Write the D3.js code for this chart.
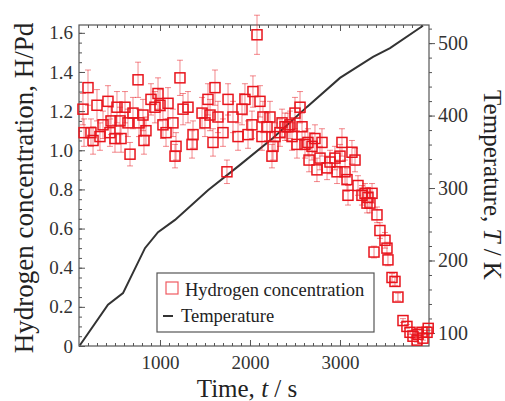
<!DOCTYPE html>
<html>
<head>
<meta charset="utf-8">
<script src="https://cdn.jsdelivr.net/npm/d3@7"></script>
<style>
  body { margin: 0; background: #fff; }
  svg { font-family: "Liberation Serif", "DejaVu Serif", serif; }
  svg text { font-family: "Liberation Serif", "DejaVu Serif", serif; }
</style>
</head>
<body>
<svg id="chart" width="505" height="401"></svg>
<script>
'use strict';

// hydrogen concentration: [time (s), H/Pd, error]
var hydrogenRows = [
  [144, 1.21, 0.08], [156, 1.09, 0.07], [200, 1.32, 0.09], [233, 1.09, 0.07],
  [256, 1.05, 0.07], [300, 1.23, 0.08], [333, 1.07, 0.07], [367, 1.13, 0.07],
  [422, 1.25, 0.08], [444, 1.09, 0.07], [456, 1.15, 0.07], [500, 1.06, 0.07],
  [522, 1.22, 0.08], [556, 1.15, 0.07], [567, 1.06, 0.07], [611, 1.22, 0.08],
  [644, 1.14, 0.07], [667, 0.98, 0.06], [700, 1.19, 0.08], [756, 1.36, 0.09],
  [767, 1.14, 0.07], [811, 1.18, 0.08], [822, 1.05, 0.07], [844, 1.10, 0.07],
  [900, 1.26, 0.08], [944, 1.22, 0.08], [978, 1.29, 0.08], [1000, 1.23, 0.08],
  [1033, 1.13, 0.07], [1067, 1.09, 0.07], [1089, 1.24, 0.08], [1144, 1.14, 0.07],
  [1167, 0.97, 0.06], [1178, 1.02, 0.07], [1222, 1.37, 0.09], [1256, 1.21, 0.08],
  [1311, 1.22, 0.08], [1356, 1.03, 0.07], [1367, 1.08, 0.07], [1467, 1.19, 0.08],
  [1500, 1.14, 0.07], [1533, 1.26, 0.08], [1556, 1.18, 0.08], [1589, 1.04, 0.07],
  [1611, 1.32, 0.09], [1644, 1.17, 0.08], [1700, 1.09, 0.07], [1744, 0.89, 0.06],
  [1756, 1.26, 0.08], [1811, 1.17, 0.08], [1867, 1.07, 0.07], [1911, 1.21, 0.08],
  [1944, 1.26, 0.08], [1978, 1.08, 0.07], [2022, 1.13, 0.07], [2033, 1.30, 0.08],
  [2078, 1.59, 0.10], [2111, 1.25, 0.08], [2133, 1.07, 0.07], [2144, 1.17, 0.08],
  [2189, 1.12, 0.07], [2222, 1.17, 0.08], [2244, 0.97, 0.06], [2256, 1.02, 0.07],
  [2278, 1.07, 0.07], [2333, 1.09, 0.07], [2356, 1.14, 0.07], [2389, 1.12, 0.07],
  [2422, 1.12, 0.07], [2444, 1.13, 0.07], [2467, 1.07, 0.07], [2500, 1.19, 0.08],
  [2522, 1.03, 0.07], [2556, 1.22, 0.08], [2578, 1.12, 0.07], [2611, 1.03, 0.07],
  [2644, 1.04, 0.07], [2656, 0.95, 0.06], [2689, 1.02, 0.07], [2722, 1.06, 0.07],
  [2744, 0.90, 0.06], [2778, 0.96, 0.06], [2800, 1.04, 0.07], [2856, 0.91, 0.06],
  [2889, 0.94, 0.06], [2944, 0.96, 0.06], [2967, 0.89, 0.06], [3000, 0.97, 0.06],
  [3022, 1.04, 0.07], [3056, 0.89, 0.06], [3078, 0.85, 0.06], [3089, 0.77, 0.05],
  [3133, 0.99, 0.06], [3167, 0.95, 0.06], [3200, 0.82, 0.05], [3244, 0.77, 0.05],
  [3278, 0.78, 0.05], [3300, 0.73, 0.05], [3311, 0.76, 0.05], [3333, 0.73, 0.05],
  [3356, 0.78, 0.05], [3378, 0.48, 0.03], [3411, 0.67, 0.04], [3444, 0.59, 0.04],
  [3500, 0.54, 0.04], [3522, 0.50, 0.03], [3533, 0.44, 0.03], [3578, 0.35, 0.02],
  [3611, 0.33, 0.02], [3644, 0.25, 0.02], [3700, 0.13, 0.01], [3744, 0.10, 0.01],
  [3778, 0.07, 0.01], [3811, 0.05, 0.01], [3856, 0.03, 0.01], [3867, 0.06, 0.01],
  [3911, 0.07, 0.01], [3922, 0.04, 0.01], [3967, 0.07, 0.01], [3980, 0.09, 0.01]
];

// temperature trace
var tempTime = [110, 422, 589, 833, 978, 1167, 1533, 1889, 2256, 2633, 3000, 3367, 3556, 3922];
var tempK = [83, 139, 155, 217, 239, 256, 297, 332, 369, 412, 452, 481, 493, 524];

var xTicks = [1000, 2000, 3000];
var hTicks = [0, 0.2, 0.4, 0.6, 0.8, 1.0, 1.2, 1.4, 1.6];
var tTicks = [100, 200, 300, 400, 500];

var legendLabels = ['Hydrogen concentration', 'Temperature'];

var red = '#e8141c';

var svg = d3.select('#chart'),
  plotLeft = 79, plotRight = 429, plotTop = 25, plotBottom = 346;

var x = d3.scaleLinear().domain([100, 3989]).range([plotLeft, plotRight]);
var yH = d3.scaleLinear().domain([0, 1.64]).range([plotBottom, plotTop]);
var yT = d3.scaleLinear().domain([82, 525]).range([plotBottom, plotTop]);

function noDomain(g) {
  g.attr('font-family', null).attr('font-size', null);
  g.select('.domain').remove();
  g.selectAll('line').attr('stroke', '#555');
}

// minor ticks
svg.append('g')
  .attr('transform', 'translate(0,' + plotBottom + ')')
  .call(d3.axisBottom(x).tickValues(d3.range(200, 4000, 100)).tickSize(-3).tickFormat(''))
  .call(noDomain);
svg.append('g')
  .attr('transform', 'translate(0,' + plotTop + ')')
  .call(d3.axisTop(x).tickValues(d3.range(200, 4000, 100)).tickSize(-3).tickFormat(''))
  .call(noDomain);
svg.append('g')
  .attr('transform', 'translate(' + plotLeft + ',0)')
  .call(d3.axisLeft(yH).tickValues(d3.range(0, 1.64, 0.05)).tickSize(-3).tickFormat(''))
  .call(noDomain);
svg.append('g')
  .attr('transform', 'translate(' + plotRight + ',0)')
  .call(d3.axisRight(yT).tickValues(d3.range(100, 525, 20)).tickSize(3).tickFormat(''))
  .call(noDomain);

// major ticks + labels
var xAxis = svg.append('g')
  .attr('transform', 'translate(0,' + plotBottom + ')')
  .call(d3.axisBottom(x).tickValues(xTicks).tickSize(-6).tickPadding(10).tickFormat(d3.format('d')))
  .call(noDomain);
svg.append('g')
  .attr('transform', 'translate(0,' + plotTop + ')')
  .call(d3.axisTop(x).tickValues(xTicks).tickSize(-6).tickFormat(''))
  .call(noDomain);
var hAxis = svg.append('g')
  .attr('transform', 'translate(' + plotLeft + ',0)')
  .call(d3.axisLeft(yH).tickValues(hTicks).tickSize(-6).tickPadding(6)
    .tickFormat(function(d) { return d === 0 ? '0' : d3.format('.1f')(d); }))
  .call(noDomain);
var tAxis = svg.append('g')
  .attr('transform', 'translate(' + plotRight + ',0)')
  .call(d3.axisRight(yT).tickValues(tTicks).tickSize(6).tickPadding(3).tickFormat(d3.format('d')))
  .call(noDomain);

[xAxis, hAxis].forEach(function(g) {
  g.selectAll('text').attr('font-size', 19).attr('fill', '#333');
});
tAxis.selectAll('text').attr('font-size', 20).attr('fill', '#333');

// frame
svg.append('rect')
  .attr('x', plotLeft).attr('y', plotTop)
  .attr('width', plotRight - plotLeft).attr('height', plotBottom - plotTop)
  .attr('fill', 'none').attr('stroke', '#555').attr('stroke-width', 1.2);

// temperature line
var tempLine = d3.line()
  .x(function(d, i) { return x(tempTime[i]); })
  .y(function(d) { return yT(d); });

svg.append('path')
  .datum(tempK)
  .attr('d', tempLine)
  .attr('fill', 'none')
  .attr('stroke', '#333')
  .attr('stroke-width', 2);

// error bars
var err = svg.append('g')
  .attr('class', 'errors')
  .attr('stroke', red)
  .attr('stroke-opacity', 0.5)
  .attr('stroke-width', 1);

var bars = err.selectAll('g')
  .data(hydrogenRows)
  .enter().append('g');

bars.append('line')
  .attr('x1', function(d) { return x(d[0]); })
  .attr('x2', function(d) { return x(d[0]); })
  .attr('y1', function(d) { return yH(d[1] - d[2]); })
  .attr('y2', function(d) { return yH(d[1] + d[2]); });
bars.append('line')
  .attr('x1', function(d) { return x(d[0]) - 3; })
  .attr('x2', function(d) { return x(d[0]) + 3; })
  .attr('y1', function(d) { return yH(d[1] + d[2]); })
  .attr('y2', function(d) { return yH(d[1] + d[2]); });
bars.append('line')
  .attr('x1', function(d) { return x(d[0]) - 3; })
  .attr('x2', function(d) { return x(d[0]) + 3; })
  .attr('y1', function(d) { return yH(d[1] - d[2]); })
  .attr('y2', function(d) { return yH(d[1] - d[2]); });

// markers
var size = 10;
svg.append('g')
  .attr('class', 'markers')
  .selectAll('rect')
  .data(hydrogenRows)
  .enter().append('rect')
  .attr('x', function(d) { return x(d[0]) - size / 2; })
  .attr('y', function(d) { return yH(d[1]) - size / 2; })
  .attr('width', size)
  .attr('height', size)
  .attr('fill', 'none')
  .attr('stroke', red)
  .attr('stroke-width', 1.5);

// legend
var legend = svg.append('g').attr('class', 'legend');
legend.append('rect')
  .attr('x', 157).attr('y', 273)
  .attr('width', 217).attr('height', 59)
  .attr('fill', '#fff').attr('stroke', '#555').attr('stroke-width', 1.2);
legend.append('rect')
  .attr('x', 166).attr('y', 282)
  .attr('width', 12).attr('height', 12)
  .attr('fill', 'none').attr('stroke', red).attr('stroke-opacity', 0.7).attr('stroke-width', 1.2);
legend.append('line')
  .attr('x1', 163).attr('x2', 173)
  .attr('y1', 316).attr('y2', 316)
  .attr('stroke', '#333').attr('stroke-width', 2);
legend.selectAll('text')
  .data(legendLabels)
  .enter().append('text')
  .attr('x', function(d, i) { return i === 0 ? 185 : 181; })
  .attr('y', function(d, i) { return i === 0 ? 296 : 322; })
  .attr('font-size', 18.5)
  .attr('fill', '#222')
  .text(function(d) { return d; });

// axis titles
svg.append('text')
  .attr('transform', 'translate(33,188) rotate(-90)')
  .attr('text-anchor', 'middle')
  .attr('font-size', 27)
  .attr('fill', '#222')
  .text('Hydrogen concentration, H/Pd');

var tTitle = svg.append('text')
  .attr('transform', 'translate(484,185) rotate(90)')
  .attr('text-anchor', 'middle')
  .attr('font-size', 25)
  .attr('fill', '#222');
tTitle.append('tspan').text('Temperature, ');
tTitle.append('tspan').attr('font-style', 'italic').text('T');
tTitle.append('tspan').text(' / K');

var xTitle = svg.append('text')
  .attr('x', 247).attr('y', 397)
  .attr('text-anchor', 'middle')
  .attr('font-size', 25)
  .attr('fill', '#222');
xTitle.append('tspan').text('Time, ');
xTitle.append('tspan').attr('font-style', 'italic').text('t');
xTitle.append('tspan').text(' / s');
</script>
</body>
</html>
